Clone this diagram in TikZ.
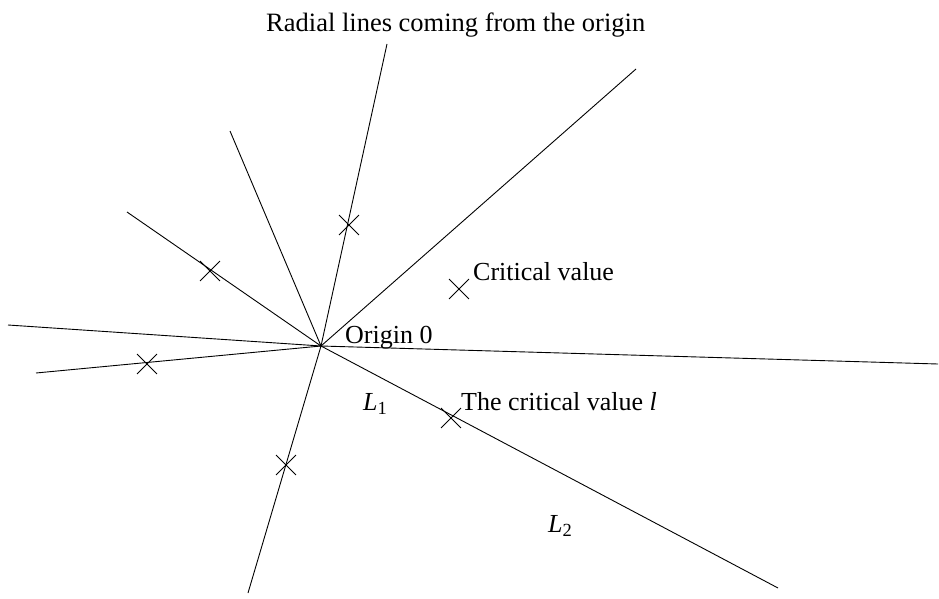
\documentclass[tikz,border=0pt]{standalone}
\usepackage{fontspec}
\setmainfont{Liberation Serif}
\usetikzlibrary{shapes.misc}
\begin{document}
\begin{tikzpicture}[x=1pt,y=-1pt,
  ray/.style={line width=0.9pt},
  xmark/.style={cross out,draw,line width=0.9pt,minimum size=19pt,inner sep=0pt},
  lbl/.style={anchor=base west,inner sep=0pt,font=\fontsize{26}{30}\selectfont}]
\useasboundingbox (0,0) rectangle (939,599);
\coordinate (O) at (321,346);
\coordinate (e1) at (387,44);
\coordinate (e2) at (230,131);
\coordinate (e3) at (636,69);
\coordinate (e4) at (127,212);
\coordinate (e5) at (8,325);
\coordinate (e6) at (36,373);
\coordinate (e7) at (248,593);
\coordinate (e8) at (938,364);
\coordinate (e9) at (778,588);
\foreach \e in {e1,e2,e3,e4,e5,e6,e7,e8,e9} \draw[ray] (O) -- (\e);
\node[xmark] (c1) at (349,225) {};
\node[xmark] (c2) at (210,271) {};
\node[xmark] (c3) at (147,364) {};
\node[xmark] (c4) at (286,465) {};
\node[xmark] (c5) at (451,418) {};
\node[xmark] (c6) at (459,289) {};
\node[lbl,font=\fontsize{26.5}{30}\selectfont] (title) at (266,32) {Radial lines coming from the origin};
\node[lbl] (crit) at (473,280) {Critical value};
\node[lbl] (orig) at (345,343) {Origin 0};
\node[lbl] (l1) at (363,410) {\textit{L}\raisebox{-0.35ex}{\fontsize{18.5}{20}\selectfont 1}};
\node[lbl] (cvl) at (461,410) {The critical value \textit{l}};
\node[lbl] (l2) at (548,532) {\textit{L}\raisebox{-0.35ex}{\fontsize{18.5}{20}\selectfont 2}};
\end{tikzpicture}
\end{document}
